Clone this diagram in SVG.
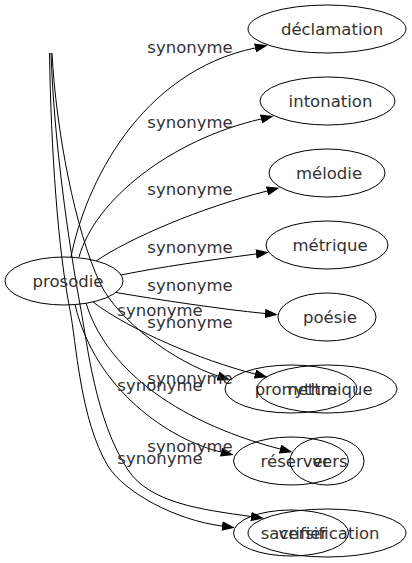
<svg xmlns="http://www.w3.org/2000/svg" width="412" height="563" viewBox="0 0 412 563">
<style>
.n ellipse{fill:none;stroke:#000;stroke-width:1}
.n text,.e text{font-family:"DejaVu Sans","Liberation Sans",sans-serif;font-size:16.5px;fill:#333;text-anchor:middle}
.e path{fill:none;stroke:#000;stroke-width:1;marker-end:url(#ah)}
</style>
<defs>
<marker id="ah" viewBox="0 0 13 9.4" refX="0" refY="4.7" markerWidth="13" markerHeight="9.4" markerUnits="userSpaceOnUse" orient="auto">
<path d="M0,0 L13,4.7 L0,9.4 z" fill="#000"/>
</marker>
</defs>
<g id="edges">
<g class="e" id="e-declamation"><path d="M71,257 C85,185 140,72 255,48"/><text x="190" y="52.5">synonyme</text></g>
<g class="e" id="e-intonation"><path d="M79,257 C95,200 170,140 261,119"/><text x="190" y="127.5">synonyme</text></g>
<g class="e" id="e-melodie"><path d="M96,261 C130,238 200,208 267,191"/><text x="190" y="194.5">synonyme</text></g>
<g class="e" id="e-metrique"><path d="M121,275 C160,267 210,260 256,254"/><text x="190" y="252.5">synonyme</text></g>
<g class="e" id="e-poesie"><path d="M116,292.5 C160,300 220,309 265,313.5"/><text x="190" y="291">synonyme</text></g>
<g class="e" id="e-promettre"><path d="M52,53 C56,130 75,230 100,283 C118,321 175,362 218,376"/><text x="160" y="316">synonyme</text></g>
<g class="e" id="e-rythmique"><path d="M93,302 C130,330 200,360 255,374"/><text x="190" y="327.5">synonyme</text></g>
<g class="e" id="e-vers"><path d="M86,303 C105,365 170,420 280,449"/><text x="190" y="384">synonyme</text></g>
<g class="e" id="e-reserver"><path d="M75,304.5 C95,390 170,440 221,452"/><text x="160" y="390.5">synonyme</text></g>
<g class="e" id="e-versification"><path d="M51,53 C54,140 68,240 81,310 C87,342 95,420 128,470 C150,503 201,509.5 251,516.5"/><text x="190" y="452">synonyme</text></g>
<g class="e" id="e-sacrifier"><path d="M49.5,53 C51,150 58,250 70,310 C76,340 80,420 108,466 C124,492 175,520 222,526"/><text x="160" y="464">synonyme</text></g>
</g>
<g class="n" id="n-prosodie"><ellipse cx="64" cy="281" rx="59" ry="24"/><text x="68" y="287">prosodie</text></g>
<g class="n" id="n-declamation"><ellipse cx="327" cy="29" rx="79" ry="24"/><text x="332" y="35">déclamation</text></g>
<g class="n" id="n-intonation"><ellipse cx="327.5" cy="101" rx="67.5" ry="24"/><text x="330.5" y="107">intonation</text></g>
<g class="n" id="n-melodie"><ellipse cx="327" cy="173" rx="58" ry="24"/><text x="329" y="179">mélodie</text></g>
<g class="n" id="n-metrique"><ellipse cx="327" cy="245" rx="61" ry="24"/><text x="330" y="251">métrique</text></g>
<g class="n" id="n-poesie"><ellipse cx="327" cy="317" rx="49" ry="24"/><text x="330" y="323">poésie</text></g>
<g class="n" id="n-promettre"><ellipse cx="291" cy="389" rx="66" ry="24"/><text x="296" y="395">promettre</text></g>
<g class="n" id="n-rythmique"><ellipse cx="327" cy="389" rx="70" ry="24"/><text x="330" y="395">rythmique</text></g>
<g class="n" id="n-reserver"><ellipse cx="291" cy="461" rx="57.5" ry="24"/><text x="295" y="467">réserver</text></g>
<g class="n" id="n-vers"><ellipse cx="327" cy="461" rx="37" ry="24"/><text x="330" y="467">vers</text></g>
<g class="n" id="n-sacrifier"><ellipse cx="291" cy="533" rx="57.5" ry="23"/><text x="294" y="539">sacrifier</text></g>
<g class="n" id="n-versification"><ellipse cx="327" cy="533" rx="79" ry="24"/><text x="329" y="539">versification</text></g>
</svg>
